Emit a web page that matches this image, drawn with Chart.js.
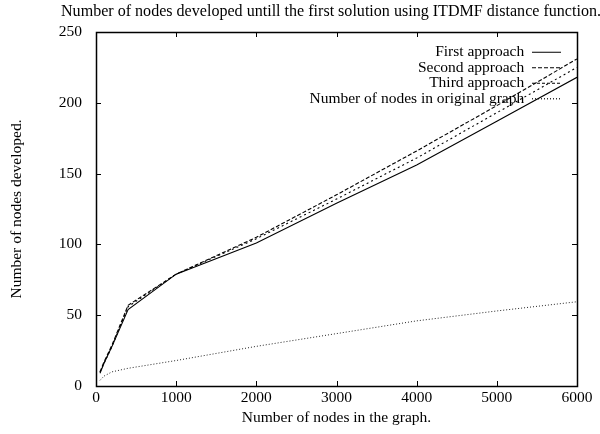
<!DOCTYPE html>
<html>
<head>
<meta charset="utf-8">
<script src="https://cdn.jsdelivr.net/npm/chart.js@4.4.1/dist/chart.umd.min.js"></script>
<style>
  html, body { margin: 0; padding: 0; background: #fff; }
  #wrap { width: 600px; height: 434px; }
</style>
</head>
<body>
<div id="wrap"><canvas id="c" width="600" height="434"></canvas></div>
<script>
const graphSizes = [50, 100, 200, 400, 1000, 2000, 3000, 4000, 5000, 6000];
const firstApproach = [9, 16, 28, 54, 79, 101, 129, 156, 187, 218];
const secondApproach = [10, 17, 29, 57, 79, 105, 135, 166, 198, 231];
const thirdApproach = [10, 16, 28, 56, 79, 104, 132, 161, 193, 225];
const originalNodes = [4, 7, 10, 12.5, 18, 28, 37, 46, 53, 59.5];
const seriesNames = ['First approach', 'Second approach', 'Third approach', 'Number of nodes in original graph'];
const xTicks = [0, 1000, 2000, 3000, 4000, 5000, 6000];
const yTicks = [0, 50, 100, 150, 200, 250];

const FONT = "'Liberation Serif', 'Times New Roman', serif";
const FS = 15.5;

function pts(vals) { return graphSizes.map((x, i) => ({ x: x, y: vals[i] })); }

const boxAndTicks = {
  id: 'boxAndTicks',
  beforeDraw(chart) {
    const lg = chart.legend;
    if (lg) {
      const w = lg.width, h = lg.height;
      const pad = lg.options.labels.padding;
      lg.right = 561 + pad;
      lg.left = lg.right - w;
      lg.top = 44.5 - pad;
      lg.bottom = lg.top + h;
    }
    const tb = chart.titleBlock;
    if (tb) {
      tb.left = 61;
      tb.right = 601;
      tb.width = 540;
    }
  },
  afterDraw(chart) {
    const { ctx, chartArea: a, scales: { x, y } } = chart;
    ctx.save();
    ctx.strokeStyle = '#000';
    ctx.lineWidth = 1;
    const L = 5;
    ctx.beginPath();
    xTicks.forEach(v => {
      const px = Math.round(x.getPixelForValue(v)) + 0.5;
      ctx.moveTo(px, a.bottom); ctx.lineTo(px, a.bottom - L);
      ctx.moveTo(px, a.top); ctx.lineTo(px, a.top + L);
    });
    yTicks.forEach(v => {
      const py = Math.round(y.getPixelForValue(v)) + 0.5;
      ctx.moveTo(a.left, py); ctx.lineTo(a.left + L, py);
      ctx.moveTo(a.right, py); ctx.lineTo(a.right - L, py);
    });
    ctx.stroke();
    ctx.lineWidth = 1.5;
    ctx.strokeRect(Math.round(a.left) + 0.5, Math.round(a.top) + 0.5, Math.round(a.right - a.left), Math.round(a.bottom - a.top));
    ctx.restore();
  }
};

new Chart(document.getElementById('c'), {
  type: 'line',
  data: {
    datasets: [
      { label: seriesNames[0], data: pts(firstApproach), borderColor: '#000', borderWidth: 1.1, borderDash: [] },
      { label: seriesNames[1], data: pts(secondApproach), borderColor: '#000', borderWidth: 1.1, borderDash: [4, 2] },
      { label: seriesNames[2], data: pts(thirdApproach), borderColor: '#000', borderWidth: 1.1, borderDash: [2, 3] },
      { label: seriesNames[3], data: pts(originalNodes), borderColor: '#222', borderWidth: 1, borderDash: [1, 2] }
    ]
  },
  options: {
    responsive: false,
    animation: false,
    devicePixelRatio: 1,
    layout: { padding: { left: 0, right: 23, top: 0, bottom: 0 } },
    elements: {
      point: { radius: 0, hoverRadius: 0 },
      line: { tension: 0, fill: false, borderCapStyle: 'butt' }
    },
    plugins: {
      title: {
        display: true,
        text: 'Number of nodes developed untill the first solution using ITDMF distance function.',
        fullSize: false,
        color: '#000',
        font: { family: FONT, size: 16.7, weight: 'normal', lineHeight: 1.2 },
        padding: { top: 2, bottom: 9.96 }
      },
      legend: {
        display: true,
        position: 'chartArea',
        align: 'start',
        rtl: true,
        labels: {
          color: '#000',
          font: { family: FONT, size: FS },
          usePointStyle: false,
          boxWidth: 29,
          boxHeight: 0,
          padding: 0
        }
      },
      tooltip: { enabled: false }
    },
    scales: {
      x: {
        type: 'linear',
        min: 0,
        max: 6000,
        afterBuildTicks(s) { s.ticks = xTicks.map(v => ({ value: v })); },
        afterFit(s) { s.height = 48; },
        grid: { display: false, drawTicks: false },
        border: { display: false },
        ticks: { color: '#000', font: { family: FONT, size: FS }, padding: 3, maxRotation: 0, callback: v => String(v) },
        title: {
          display: true,
          text: 'Number of nodes in the graph.',
          color: '#000',
          font: { family: FONT, size: FS, lineHeight: 1.2 },
          padding: { top: 0, bottom: 6.7 }
        }
      },
      y: {
        type: 'linear',
        min: 0,
        max: 250,
        afterBuildTicks(s) { s.ticks = yTicks.map(v => ({ value: v })); },
        afterFit(s) { s.width = 96; },
        grid: { display: false, drawTicks: false },
        border: { display: false },
        ticks: { color: '#000', font: { family: FONT, size: FS }, padding: 14, callback: v => String(v) },
        title: {
          display: true,
          text: 'Number of nodes developed.',
          color: '#000',
          font: { family: FONT, size: FS, lineHeight: 1.2 },
          padding: { top: 7.7, bottom: 0 }
        }
      }
    }
  },
  plugins: [boxAndTicks]
});
</script>
</body>
</html>
